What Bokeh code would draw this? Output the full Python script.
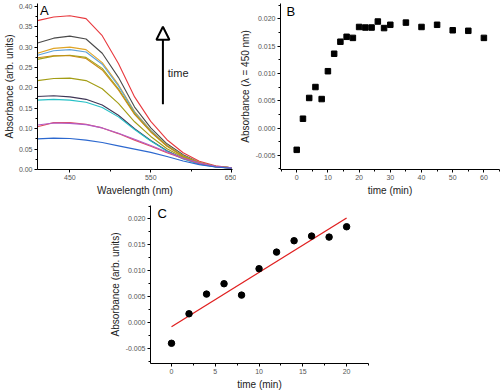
from bokeh.plotting import figure
from bokeh.layouts import column, row
from bokeh.models import (FixedTicker, NumeralTickFormatter, Range1d, Arrow,
                          NormalHead, Label, Spacer)
from bokeh.embed import file_html
from bokeh.resources import INLINE

# ---------------- data ----------------
wavelength = [410, 430, 450, 470, 490, 510, 530, 550, 570, 590, 610, 630, 650]

spec_red = [0.365, 0.374, 0.377, 0.370, 0.328, 0.260, 0.178, 0.118, 0.073, 0.041, 0.020, 0.009, 0.004]
spec_gray = [0.310, 0.322, 0.327, 0.320, 0.285, 0.226, 0.153, 0.102, 0.063, 0.036, 0.017, 0.008, 0.004]
spec_orange = [0.285, 0.297, 0.300, 0.294, 0.262, 0.208, 0.142, 0.096, 0.060, 0.034, 0.017, 0.008, 0.004]
spec_lblue = [0.280, 0.291, 0.294, 0.288, 0.258, 0.205, 0.140, 0.095, 0.059, 0.033, 0.016, 0.008, 0.004]
spec_olive = [0.270, 0.278, 0.280, 0.275, 0.248, 0.198, 0.137, 0.093, 0.058, 0.033, 0.016, 0.008, 0.004]
spec_brown = [0.274, 0.279, 0.279, 0.272, 0.244, 0.195, 0.135, 0.092, 0.057, 0.032, 0.016, 0.008, 0.004]
spec_olive2 = [0.218, 0.223, 0.224, 0.218, 0.198, 0.162, 0.117, 0.081, 0.051, 0.030, 0.015, 0.007, 0.003]
spec_navy = [0.179, 0.181, 0.178, 0.172, 0.158, 0.133, 0.100, 0.071, 0.046, 0.027, 0.014, 0.007, 0.003]
spec_cyan = [0.170, 0.172, 0.170, 0.165, 0.152, 0.129, 0.098, 0.070, 0.045, 0.026, 0.013, 0.006, 0.003]
spec_pink = [0.105, 0.115, 0.115, 0.111, 0.102, 0.088, 0.072, 0.057, 0.041, 0.027, 0.015, 0.007, 0.003]
spec_purple = [0.109, 0.114, 0.113, 0.110, 0.102, 0.089, 0.074, 0.059, 0.043, 0.028, 0.016, 0.008, 0.004]
spec_blue = [0.075, 0.077, 0.076, 0.072, 0.066, 0.058, 0.050, 0.042, 0.032, 0.021, 0.012, 0.006, 0.003]

spectra = [spec_red, spec_gray, spec_orange, spec_lblue, spec_olive, spec_brown,
           spec_olive2, spec_navy, spec_cyan, spec_pink, spec_purple, spec_blue]
spectra_colors = ["#e8393e", "#4a4a4a", "#e0a526", "#5fa2dc", "#9fa61c", "#c98a16",
                  "#a39d14", "#3f3656", "#25c0c6", "#e2505e", "#b35cc6", "#2c68cf"]

time_b = [0, 2, 4, 6, 8, 10, 12, 14, 16, 18, 20, 22, 24, 26, 28, 30, 35, 40, 45, 50, 55, 60]
abs_b = [-0.0040, 0.0017, 0.0055, 0.0075, 0.0053, 0.0104, 0.0136, 0.0158, 0.0167, 0.0165,
         0.0185, 0.0184, 0.0184, 0.0195, 0.0183, 0.0189, 0.0193, 0.0185, 0.0189, 0.0179,
         0.0178, 0.0165]

time_c = [0, 2, 4, 6, 8, 10, 12, 14, 16, 18, 20]
abs_c = [-0.0040, 0.0017, 0.0055, 0.0075, 0.0053, 0.0104, 0.0136, 0.0158, 0.0167, 0.0165, 0.0185]

fit_t = [0, 20]
fit_abs = [-0.0008, 0.0202]

a_xticks = [450, 550, 650]
a_xminor = [500, 600]
a_yticks = [0.00, 0.05, 0.10, 0.15, 0.20, 0.25, 0.30, 0.35, 0.40]
a_yminor = [0.025, 0.075, 0.125, 0.175, 0.225, 0.275, 0.325, 0.375]
b_xticks = [0, 10, 20, 30, 40, 50, 60]
b_xminor = [-5, 5, 15, 25, 35, 45, 55, 65]
bc_yticks = [-0.005, 0.000, 0.005, 0.010, 0.015, 0.020]
bc_yminor = [-0.0075, -0.0025, 0.0025, 0.0075, 0.0125, 0.0175, 0.0225]
c_xticks = [0, 5, 10, 15, 20]
c_xminor = [-2.5, 2.5, 7.5, 12.5, 17.5, 22.5]

FONT = "Liberation Sans"


def style(p):
    p.outline_line_color = None
    p.xgrid.visible = False
    p.ygrid.visible = False
    p.background_fill_color = "white"
    p.border_fill_color = "white"
    for ax in p.axis:
        ax.major_tick_out = 3
        ax.major_tick_in = 0
        ax.minor_tick_out = 2
        ax.minor_tick_in = 0
        ax.axis_line_color = "black"
        ax.major_tick_line_color = "black"
        ax.minor_tick_line_color = "black"
        ax.major_label_text_font = FONT
        ax.major_label_text_font_size = "7px"
        ax.major_label_text_color = "#555555"
        ax.major_label_standoff = 2
        ax.axis_label_text_font = FONT
        ax.axis_label_text_font_size = "10px"
        ax.axis_label_text_font_style = "normal"
        ax.axis_label_text_color = "#222222"
        ax.axis_label_standoff = 2


def panel_letter(p, x, y, txt):
    p.add_layout(Label(x=x, y=y, text=txt, text_font=FONT, text_font_size="13px",
                       text_baseline="top", text_align="left", text_color="black"))


# ---------------- panel A ----------------
pA = figure(width=236, height=198, output_backend="svg", toolbar_location=None,
            x_range=Range1d(410, 651), y_range=Range1d(0, 0.407),
            min_border_top=3, min_border_right=4, min_border_left=5)
for vals, col in zip(spectra, spectra_colors):
    pA.line(wavelength, vals, line_color=col, line_width=1.1)
style(pA)
pA.yaxis.axis_label_standoff = 1
pA.xaxis.ticker = FixedTicker(ticks=a_xticks, minor_ticks=a_xminor)
pA.yaxis.ticker = FixedTicker(ticks=a_yticks, minor_ticks=a_yminor)
pA.yaxis.formatter = NumeralTickFormatter(format="0.00")
pA.xaxis.axis_label = "Wavelength (nm)"
pA.yaxis.axis_label = "Absorbance (arb. units)"
pA.add_layout(Arrow(end=NormalHead(fill_color="white", line_color="black", line_width=2, size=13),
                    x_start=565, y_start=0.16, x_end=565, y_end=0.35,
                    line_color="black", line_width=2))
pA.add_layout(Label(x=571, y=0.237, text="time", text_font=FONT, text_font_size="11px",
                    text_baseline="middle", text_color="#222222"))
panel_letter(pA, 413, 0.408, "A")

# ---------------- panel B ----------------
pB = figure(width=264, height=198, output_backend="svg", toolbar_location=None,
            x_range=Range1d(-5.2, 65), y_range=Range1d(-0.0076, 0.0228),
            min_border_top=3, min_border_right=1, min_border_left=5)
pB.scatter(time_b, abs_b, marker="square", size=5.5, fill_color="black", line_color="black")
style(pB)
pB.xaxis.ticker = FixedTicker(ticks=b_xticks, minor_ticks=b_xminor)
pB.yaxis.ticker = FixedTicker(ticks=bc_yticks, minor_ticks=bc_yminor)
pB.yaxis.formatter = NumeralTickFormatter(format="0.000")
pB.xaxis.axis_label = "time (min)"
pB.yaxis.axis_label = "Absorbance (λ = 450 nm)"
panel_letter(pB, -3.3, 0.0228, "B")

# ---------------- panel C ----------------
pC = figure(width=266, height=194, output_backend="svg", toolbar_location=None,
            x_range=Range1d(-2.4, 22.5), y_range=Range1d(-0.0079, 0.0226),
            min_border_top=7, min_border_right=4, min_border_left=5)
pC.line(fit_t, fit_abs, line_color="#e02020", line_width=1.3)
pC.scatter(time_c, abs_c, marker="circle", size=6.5, fill_color="black", line_color="black")
style(pC)
pC.xaxis.ticker = FixedTicker(ticks=c_xticks, minor_ticks=c_xminor)
pC.yaxis.ticker = FixedTicker(ticks=bc_yticks, minor_ticks=bc_yminor)
pC.yaxis.formatter = NumeralTickFormatter(format="0.000")
pC.xaxis.axis_label = "time (min)"
pC.yaxis.axis_label = "Absorbance (arb. units)"
panel_letter(pC, -1.6, 0.0226, "C")

layout = column(row(pA, pB), row(Spacer(width=106, height=10), pC))

open("out.html", "w").write(file_html(layout, INLINE))
